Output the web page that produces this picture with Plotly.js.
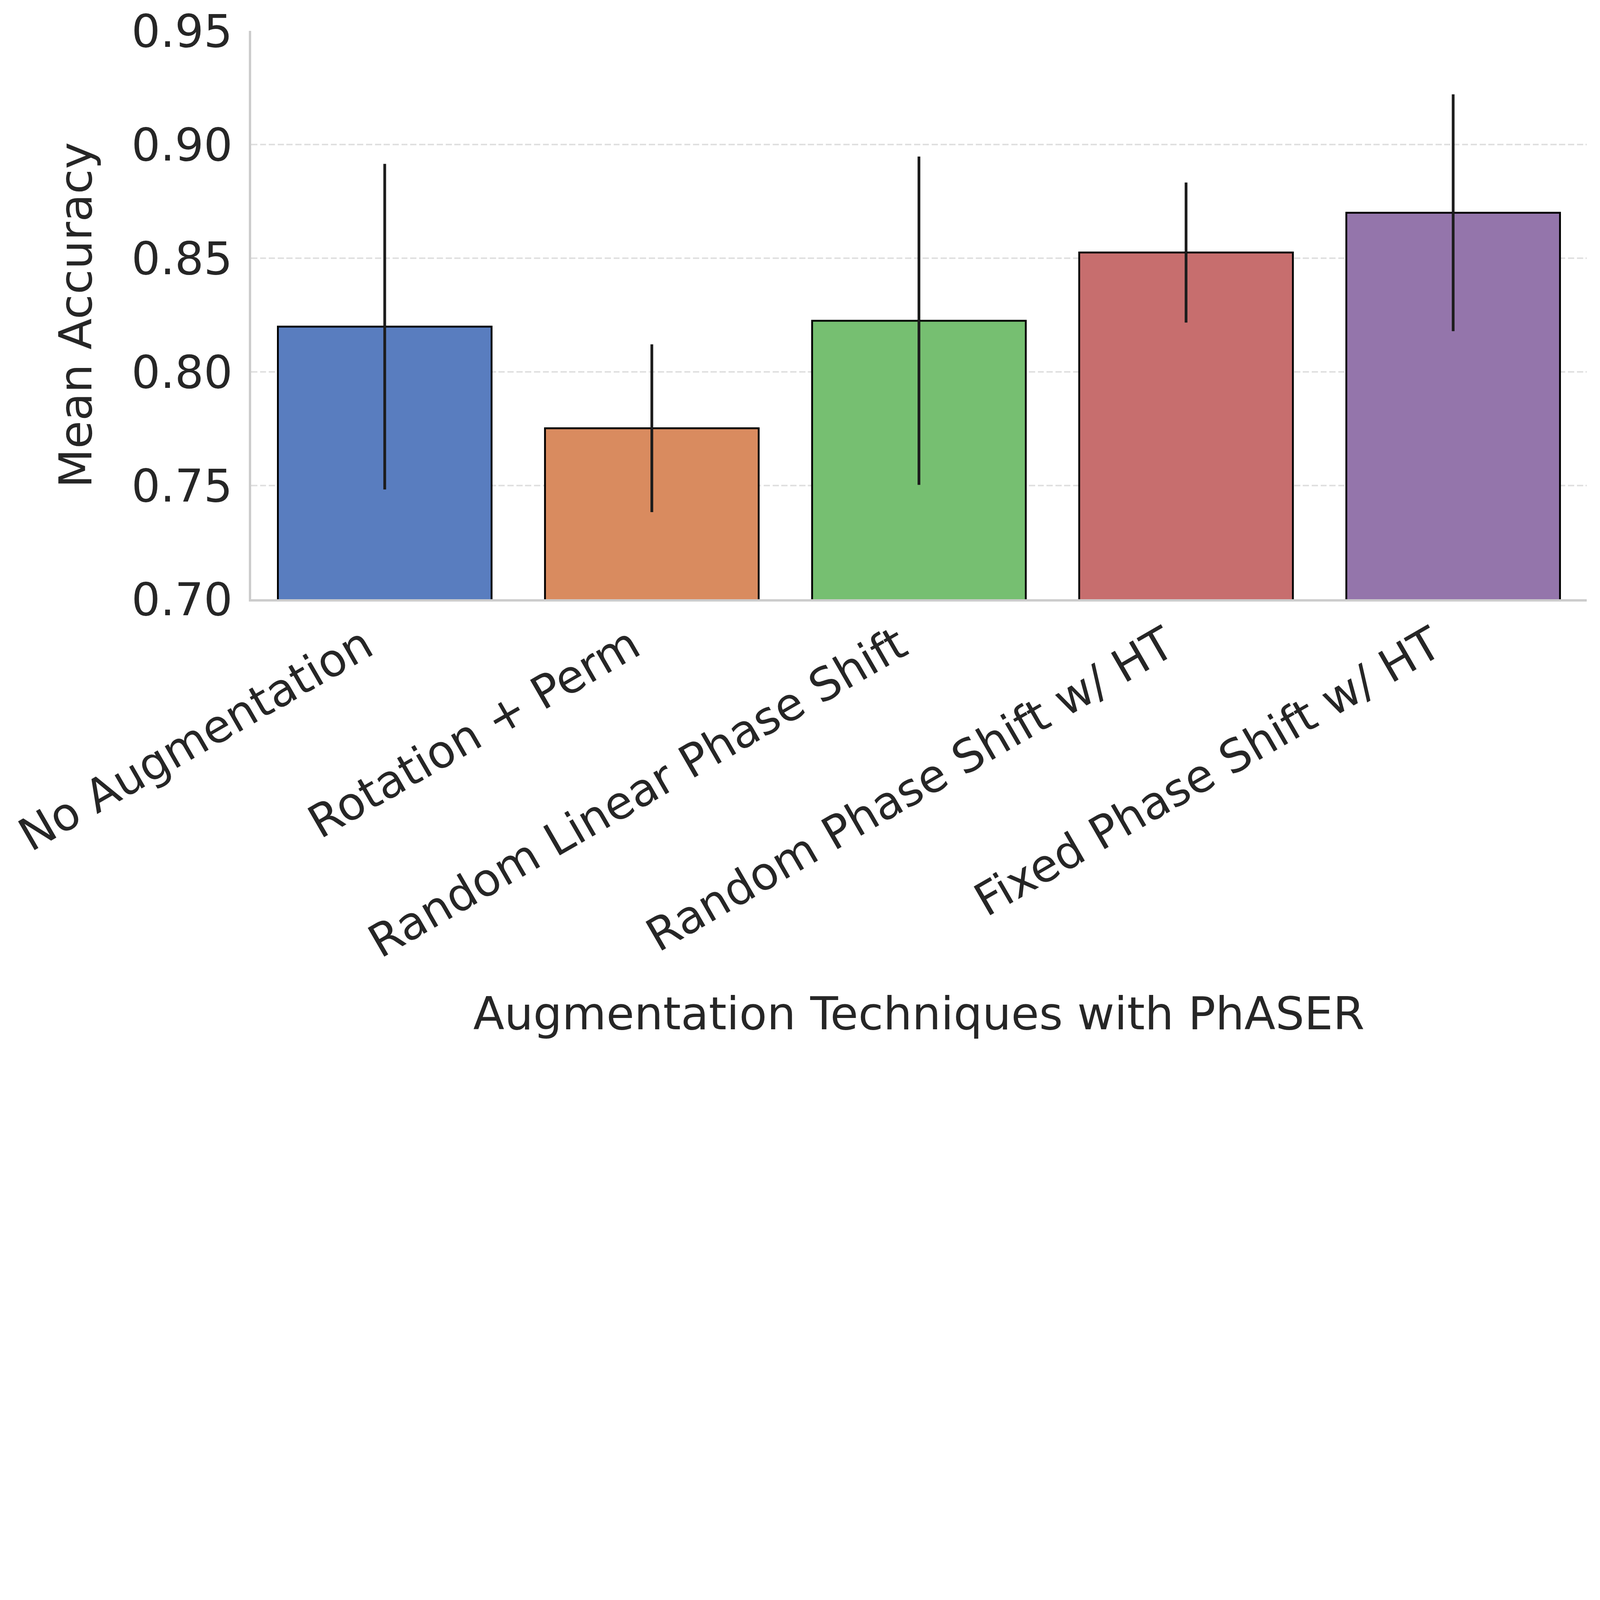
<!DOCTYPE html>
<html>
<head>
<meta charset="utf-8">
<script src="https://cdn.plot.ly/plotly-3.0.1.min.js"></script>
<style>html,body{margin:0;padding:0;background:#fff;overflow:hidden;}#chart{position:absolute;left:0;top:0;}</style>
</head>
<body>
<div id="chart"></div>
<script>
const categories = ["No Augmentation", "Rotation + Perm", "Random Linear Phase Shift", "Random Phase Shift w/ HT", "Fixed Phase Shift w/ HT"];
const meanAccuracy = [0.8199, 0.7752, 0.8225, 0.8525, 0.8700];
const errorValues = [0.0716, 0.0369, 0.0722, 0.0308, 0.0521];
const barColors = ["#597DBF", "#D98B5F", "#76BF71", "#C76E6E", "#9475AB"];
const yTickValues = [0.70, 0.75, 0.80, 0.85, 0.90, 0.95];

const textColor = "#262626";
const fontFamily = "DejaVu Sans, sans-serif";

const W0 = 6970, H0 = 4582;
const vw = window.innerWidth || W0, vh = window.innerHeight || H0;
const s = Math.min(vw / W0, vh / H0);
const px = v => v * s;

const el = document.getElementById("chart");
el.style.width = px(W0) + "px";
el.style.height = px(H0) + "px";

// bar positions on the x axis (one slot per category)
const xIndex = categories.map((_, i) => i);
// rotated labels are right-aligned to the tick (matplotlib ha="right"), nudge anchor slightly left
const labelNudge = 0.075;
const xTickVals = xIndex.map(i => i - labelNudge);

const trace = {
  type: "bar",
  x: xIndex,
  y: meanAccuracy,
  width: 0.8,
  marker: { color: barColors, line: { color: "#000000", width: px(8) } },
  error_y: { type: "data", array: errorValues, symmetric: true, visible: true, color: "#1c1c1c", thickness: px(12), width: 0 },
  hoverinfo: "none"
};

const fs = px(198);
const layout = {
  width: px(W0),
  height: px(H0),
  paper_bgcolor: "#ffffff",
  plot_bgcolor: "#ffffff",
  showlegend: false,
  margin: { l: px(1094), r: px(58), t: px(134), b: px(1973), pad: 0, autoexpand: false },
  font: { family: fontFamily, color: textColor, size: fs },
  xaxis: {
    type: "linear",
    range: [-0.5, 4.5],
    tickmode: "array",
    tickvals: xTickVals,
    ticktext: categories,
    tickangle: -30,
    tickfont: { family: fontFamily, size: fs, color: textColor },
    ticks: "",
    showgrid: false,
    showline: true,
    linecolor: "#cccccc",
    linewidth: px(10),
    zeroline: false,
    automargin: false,
    title: { text: "Augmentation Techniques with PhASER", font: { family: fontFamily, size: fs, color: textColor }, standoff: px(133) }
  },
  yaxis: {
    range: [0.70, 0.95],
    tickvals: yTickValues,
    tickformat: ".2f",
    tickfont: { family: fontFamily, size: fs, color: textColor },
    ticks: "outside",
    ticklen: px(31),
    tickcolor: "rgba(0,0,0,0)",
    tickwidth: 1,
    showgrid: true,
    gridcolor: "#e0e0e0",
    gridwidth: px(8),
    griddash: px(27) + "px," + px(11.5) + "px",
    showline: true,
    linecolor: "#cccccc",
    linewidth: px(10),
    zeroline: false,
    automargin: false,
    title: { text: "Mean Accuracy", font: { family: fontFamily, size: fs, color: textColor }, standoff: px(110) }
  }
};

Plotly.newPlot("chart", [trace], layout, { staticPlot: true, displayModeBar: false });
</script>
</body>
</html>
